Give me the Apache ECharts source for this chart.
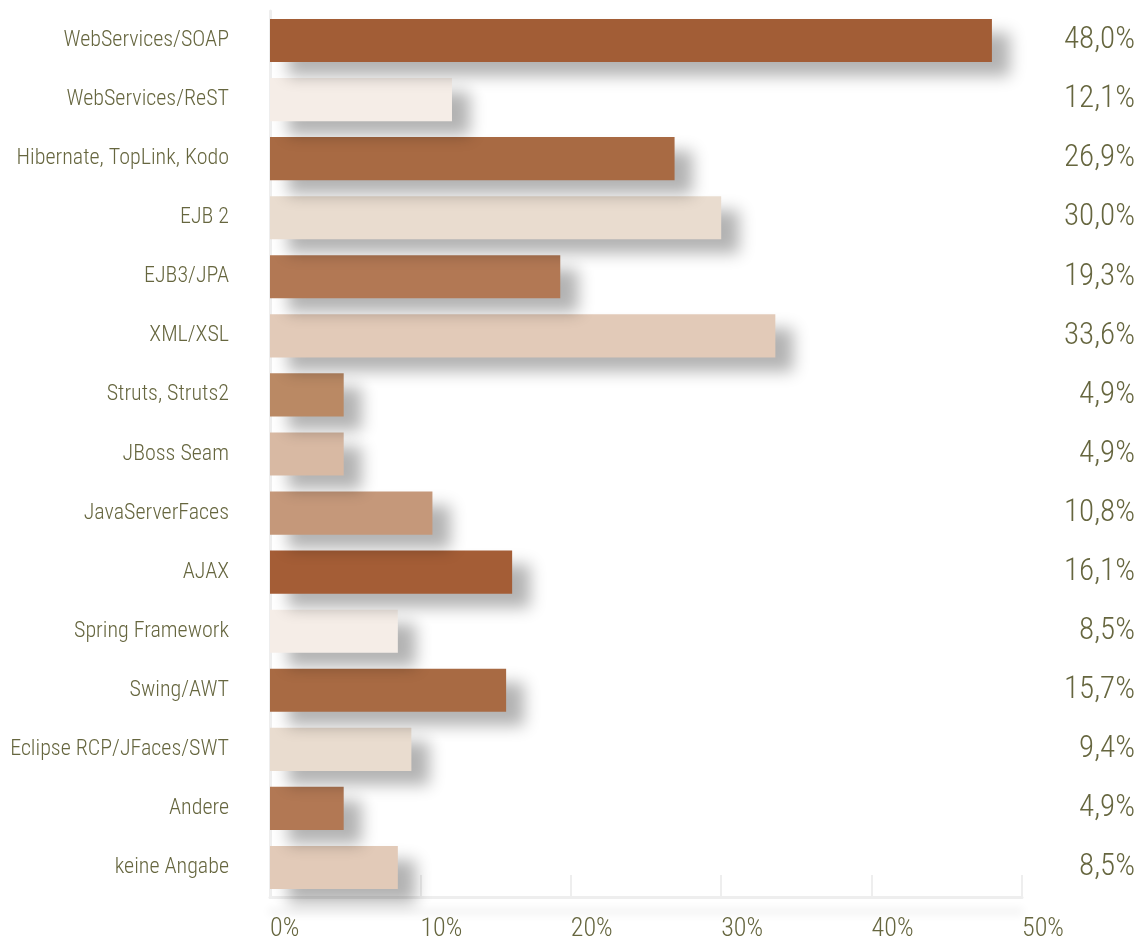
<!DOCTYPE html>
<html><head><meta charset="utf-8">
<script src="https://cdn.jsdelivr.net/npm/echarts@6/dist/echarts.min.js"></script>
<style>html,body{margin:0;padding:0;background:#fff}#c{width:1141px;height:942px}</style>
</head><body><div id="c"></div>
<script>
const categories = ["WebServices/SOAP","WebServices/ReST","Hibernate, TopLink, Kodo","EJB 2","EJB3/JPA","XML/XSL","Struts, Struts2","JBoss Seam","JavaServerFaces","AJAX","Spring Framework","Swing/AWT","Eclipse RCP/JFaces/SWT","Andere","keine Angabe"];
const values = [48.0,12.1,26.9,30.0,19.3,33.6,4.9,4.9,10.8,16.1,8.5,15.7,9.4,4.9,8.5];
const barColors = ["#a25d36","#f5ede7","#a86a43","#e9dccf","#b27854","#e2cab8","#ba8964","#d8b9a3","#c5987a","#a45d36","#f5ede7","#a86a43","#e9dccf","#b27854","#e2cab8"];
const xTicks = [0,10,20,30,40,50];

const FONT = '"Roboto Condensed","Liberation Sans Narrow","DejaVu Sans Condensed",sans-serif';
const TXT = '#66663f';
const cats = categories.slice().reverse();
const vals = values.slice().reverse();
const cols = barColors.slice().reverse();
const rightLabels = vals.map(v => v.toFixed(1).replace('.', ',') + '%');

const chart = echarts.init(document.getElementById('c'), null, {renderer:'canvas'});
chart.setOption({
  animation:false,
  grid:{left:270, right:119, top:11, bottom:45, containLabel:false, outerBoundsMode:'none'},
  xAxis:{type:'value', min:xTicks[0], max:xTicks[xTicks.length-1], interval:10,
    axisLine:{show:true, lineStyle:{color:'#eeeeee', width:3, shadowColor:'rgba(0,0,0,0.12)', shadowBlur:10, shadowOffsetY:14}},
    axisTick:{show:true, inside:true, length:22, lineStyle:{color:'#eeeeee', width:2}},
    splitLine:{show:false},
    axisLabel:{formatter:'{value}%', align:'left', margin:19, fontFamily:FONT, fontWeight:300, fontSize:26, color:TXT}
  },
  yAxis:[{type:'category', data:cats,
    axisLine:{show:true, lineStyle:{color:'#eeeeee', width:3}},
    axisTick:{show:false},
    axisLabel:{margin:41, fontFamily:FONT, fontWeight:300, fontSize:22, color:TXT}
  },{type:'category', data:rightLabels, position:'right',
    axisLine:{show:false}, axisTick:{show:false},
    axisLabel:{margin:113, align:'right', fontFamily:FONT, fontWeight:300, fontSize:31, color:TXT}
  }],
  series:[{type:'bar', data:vals.map((v,i)=>({value:v, itemStyle:{color:cols[i]}})),
    barCategoryGap:'27%',
    itemStyle:{shadowColor:'rgba(0,0,0,0.3)', shadowBlur:16, shadowOffsetX:18, shadowOffsetY:14}
  }]
});
</script></body></html>
